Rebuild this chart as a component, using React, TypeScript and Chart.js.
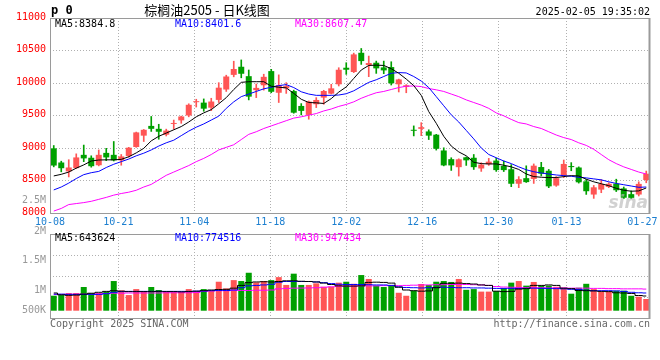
import React, { useEffect, useRef } from 'react';
import { Chart, registerables } from 'chart.js';

Chart.register(...registerables);

// ---------- data ----------
const dates = [
  '10-08', '10-09', '10-10', '10-11', '10-14', '10-15', '10-16', '10-17', '10-18', '10-21',
  '10-22', '10-23', '10-24', '10-25', '10-28', '10-29', '10-30', '10-31', '11-01', '11-04',
  '11-05', '11-06', '11-07', '11-08', '11-11', '11-12', '11-13', '11-14', '11-15', '11-18',
  '11-19', '11-20', '11-21', '11-22', '11-25', '11-26', '11-27', '11-28', '11-29', '12-02',
  '12-03', '12-04', '12-05', '12-06', '12-09', '12-10', '12-11', '12-12', '12-13', '12-16',
  '12-17', '12-18', '12-19', '12-20', '12-23', '12-24', '12-25', '12-26', '12-27', '12-30',
  '12-31', '01-02', '01-03', '01-06', '01-07', '01-08', '01-09', '01-10', '01-13', '01-14',
  '01-15', '01-16', '01-17', '01-20', '01-21', '01-22', '01-23', '01-24', '01-27', '02-05',
];

const opens = [
  8995, 8777, 8640, 8690, 8895, 8850, 8735, 8925, 8895, 8810,
  8875, 9015, 9190, 9340, 9295, 9205, 9370, 9425, 9500, 9705,
  9698, 9620, 9740, 9900, 10125, 10250, 10105, 9890, 9965, 10183,
  9850, 9918, 9876, 9647, 9509, 9673, 9775, 9836, 9980, 10235,
  10169, 10465, 10276, 10312, 10240, 10245, 9980, 9940, 9280, 9295,
  9255, 9205, 8962, 8828, 8705, 8857, 8850, 8685, 8750, 8807,
  8724, 8673, 8450, 8536, 8524, 8707, 8650, 8422, 8575, 8722,
  8700, 8487, 8284, 8360, 8402, 8452, 8378, 8290, 8284, 8508,
];
const highs = [
  9038, 8797, 8820, 8910, 9045, 8880, 8970, 8995, 9100, 8900,
  9010, 9245, 9285, 9485, 9365, 9290, 9430, 9490, 9680, 9750,
  9755, 9765, 10005, 10120, 10335, 10355, 10200, 9985, 10135, 10210,
  10125, 10005, 9890, 9683, 9724, 9775, 9888, 9980, 10235, 10312,
  10460, 10531, 10414, 10337, 10337, 10327, 10060, 9975, 9340, 9390,
  9280, 9210, 9003, 8850, 8834, 8862, 8900, 8773, 8840, 8845,
  8800, 8745, 8560, 8726, 8755, 8780, 8670, 8560, 8815, 8775,
  8710, 8515, 8424, 8515, 8465, 8520, 8400, 8340, 8480, 8645,
];
const lows = [
  8710, 8633, 8555, 8685, 8790, 8705, 8725, 8805, 8800, 8735,
  8860, 9010, 9100, 9255, 9135, 9185, 9290, 9380, 9480, 9630,
  9565, 9575, 9700, 9870, 10095, 10080, 9740, 9775, 9890, 9850,
  9700, 9840, 9535, 9509, 9443, 9622, 9673, 9830, 9954, 10133,
  10160, 10286, 10097, 10148, 10143, 9969, 9862, 9850, 9186, 9190,
  9130, 8968, 8725, 8655, 8568, 8732, 8670, 8640, 8732, 8640,
  8638, 8405, 8390, 8470, 8455, 8570, 8390, 8410, 8545, 8650,
  8460, 8286, 8225, 8312, 8390, 8330, 8220, 8220, 8262, 8465,
];
const closes = [
  8730, 8689, 8700, 8855, 8840, 8720, 8895, 8855, 8810, 8870,
  9005, 9240, 9280, 9295, 9250, 9268, 9385, 9485, 9665, 9720,
  9605, 9715, 9928, 10100, 10215, 10142, 9790, 9925, 10095, 9865,
  9968, 9952, 9543, 9571, 9714, 9739, 9877, 9918, 10204, 10204,
  10440, 10337, 10307, 10225, 10194, 9995, 10055, 9965, 9265, 9320,
  9190, 8988, 8732, 8732, 8826, 8810, 8705, 8745, 8790, 8660,
  8660, 8450, 8520, 8475, 8728, 8605, 8410, 8536, 8755, 8706,
  8472, 8335, 8395, 8447, 8450, 8350, 8235, 8233, 8448, 8605,
];

const ma5 = [
  8570, 8595, 8630, 8690, 8740, 8800, 8815, 8818, 8818, 8825,
  8865, 8925, 8995, 9110, 9180, 9230, 9280, 9330, 9400, 9480,
  9540, 9590, 9680, 9775, 9900, 10010, 10020, 10020, 10020, 9950,
  9935, 9925, 9840, 9750, 9700, 9695, 9685, 9760, 9860, 9940,
  10070, 10200, 10270, 10275, 10270, 10220, 10150, 10060, 9960, 9810,
  9560, 9380, 9180, 9030, 8940, 8880, 8780, 8760, 8755, 8755,
  8735, 8710, 8670, 8600, 8560, 8550, 8545, 8545, 8560, 8575,
  8570, 8520, 8480, 8450, 8420, 8380, 8350, 8335, 8340, 8385,
];
const ma10 = [
  8355, 8400, 8460, 8530, 8590, 8620, 8640, 8700, 8750, 8790,
  8830, 8880, 8920, 8970, 9030, 9080, 9120, 9190, 9260, 9320,
  9370, 9430, 9490, 9610, 9710, 9790, 9830, 9870, 9910, 9935,
  9960, 9975, 9930, 9865, 9830, 9810, 9810, 9810, 9815, 9835,
  9880, 9945, 10010, 10050, 10100, 10150, 10160, 10155, 10100, 10030,
  9930, 9790, 9650, 9510, 9400, 9270, 9140, 9000, 8900, 8850,
  8800, 8760, 8710, 8665, 8635, 8615, 8600, 8585, 8575, 8565,
  8550, 8540, 8525, 8510, 8480, 8455, 8435, 8415, 8395, 8400,
];
const ma30 = [
  8030, 8070, 8130, 8145, 8160, 8180, 8210, 8240, 8275, 8300,
  8320, 8350, 8400, 8440, 8510, 8580, 8630, 8680, 8730, 8790,
  8840, 8900, 8970, 9010, 9050, 9130, 9210, 9250, 9300, 9340,
  9380, 9420, 9460, 9480, 9505, 9530, 9570, 9600, 9640, 9670,
  9710, 9765, 9810, 9850, 9870, 9900, 9930, 9950, 9955, 9945,
  9915, 9895, 9870, 9830, 9790, 9740, 9700, 9660, 9610, 9540,
  9495, 9440, 9390, 9370, 9330, 9300, 9250, 9200, 9160, 9130,
  9080, 9040, 8980, 8900, 8820, 8760, 8710, 8670, 8630, 8600,
];

// volume in millions of lots
const volumes = [
  0.652, 0.68, 0.768, 0.768, 1.03, 0.77, 0.77, 0.83, 1.29, 0.88,
  0.68, 0.94, 0.83, 1.03, 0.9, 0.81, 0.81, 0.81, 0.94, 0.855,
  0.94, 0.88, 1.26, 0.97, 1.33, 1.29, 1.65, 1.23, 1.29, 1.33,
  1.46, 1.12, 1.61, 1.12, 1.12, 1.19, 1.04, 1.04, 1.22, 1.26,
  1.17, 1.55, 1.38, 1.09, 1.03, 1.12, 0.78, 0.65, 0.87, 1.16,
  1.12, 1.26, 1.29, 1.25, 1.38, 0.91, 0.94, 0.83, 0.83, 0.855,
  0.985, 1.22, 1.29, 1.09, 1.25, 1.09, 1.09, 1.04, 1.0, 0.74,
  1.0, 1.17, 0.94, 0.83, 0.83, 0.87, 0.87, 0.65, 0.61, 0.51,
];
const volMa5 = [
  0.77, 0.69, 0.67, 0.68, 0.72, 0.76, 0.80, 0.84, 0.87, 0.85,
  0.83, 0.83, 0.83, 0.83, 0.84, 0.83, 0.83, 0.82, 0.83, 0.85,
  0.87, 0.90, 0.92, 0.93, 0.98, 1.10, 1.22, 1.25, 1.26, 1.25,
  1.27, 1.30, 1.30, 1.28, 1.27, 1.25, 1.20, 1.14, 1.08, 1.07,
  1.07, 1.08, 1.23, 1.24, 1.23, 1.20, 1.02, 0.90, 0.87, 0.85,
  0.86, 1.00, 1.19, 1.19, 1.20, 1.18, 1.16, 1.12, 1.10, 0.85,
  0.83, 0.84, 0.94, 0.96, 1.10, 1.10, 1.12, 1.10, 0.98, 0.96,
  0.88, 0.87, 0.86, 0.84, 0.83, 0.78, 0.77, 0.75, 0.66, 0.64,
];
const volMa10 = [
  0.72, 0.72, 0.71, 0.71, 0.71, 0.71, 0.71, 0.74, 0.80, 0.83,
  0.84, 0.84, 0.84, 0.84, 0.84, 0.84, 0.84, 0.84, 0.84, 0.85,
  0.855, 0.87, 0.88, 0.88, 0.90, 1.00, 1.08, 1.10, 1.12, 1.15,
  1.24, 1.27, 1.27, 1.27, 1.27, 1.25, 1.22, 1.18, 1.15, 1.14,
  1.14, 1.14, 1.13, 1.12, 1.12, 1.10, 1.04, 1.01, 1.00, 0.99,
  1.00, 1.01, 1.02, 1.01, 1.00, 1.00, 0.99, 0.99, 0.98, 0.97,
  0.97, 0.97, 0.97, 0.97, 0.98, 0.97, 0.97, 0.96, 0.95, 0.93,
  0.92, 0.89, 0.87, 0.87, 0.87, 0.86, 0.84, 0.80, 0.78, 0.77,
];
const volMa30 = [
  0.71, 0.71, 0.72, 0.72, 0.72, 0.72, 0.73, 0.75, 0.76, 0.76,
  0.77, 0.77, 0.77, 0.77, 0.77, 0.78, 0.78, 0.78, 0.78, 0.79,
  0.84, 0.86, 0.87, 0.87, 0.88, 0.88, 0.88, 0.89, 0.89, 0.90,
  0.95, 0.97, 0.98, 0.985, 0.99, 1.00, 1.02, 1.04, 1.06, 1.07,
  1.07, 1.08, 1.08, 1.08, 1.09, 1.09, 1.09, 1.10, 1.11, 1.12,
  1.12, 1.13, 1.13, 1.14, 1.14, 1.14, 1.13, 1.12, 1.10, 1.05,
  1.03, 1.02, 1.01, 1.00, 1.00, 1.00, 0.99, 0.99, 0.99, 0.98,
  0.98, 0.98, 0.97, 0.97, 0.96, 0.96, 0.95, 0.95, 0.95, 0.94,
];

const axisDates = ['10-08', '10-21', '11-04', '11-18', '12-02', '12-16', '12-30', '01-13', '01-27'];
const priceMin = 8000;
const priceMax = 11000;
const priceStep = 500;
const volumeAxisLabels = ['2M', '1.5M', '1M', '500K'];
const priceLegend = ['MA5:8384.8', 'MA10:8401.6', 'MA30:8607.47'];
const volumeLegend = ['MA5:643624', 'MA10:774516', 'MA30:947434'];
const extraPriceLabel = '2.5M';
const titleText = '棕榈油2505 - 日K线图';
const codeText = 'p 0';
const stampText = '2025-02-05 19:35:02';
const copyrightText = 'Copyright 2025 SINA.COM';
const urlText = 'http://finance.sina.com.cn';
const watermarkText = 'sina';

// ---------- style ----------
const RED = '#ff5555';
const GREEN = '#00a000';
const MA_COLORS = ['#000000', '#0000ff', '#ff00ff'];
const GRID = '#b0b0b0';
const FRAME = '#9a9a9a';
const MONO = '"DejaVu Sans Mono", "Liberation Mono", monospace';
const SLOTS = dates.length;
const GRID_STRETCH = SLOTS / (SLOTS - 1); // sina spaces its date grid on n-1 intervals
const gridPositions = axisDates.map((d) => dates.indexOf(d) * GRID_STRETCH);
const VOL_MIN = -0.317;
const VOL_MAX = 3.335;

const candleColors = closes.map((c, i) => (c >= opens[i] ? RED : GREEN));
const xAt = (i: number) => i + 0.5;

function xScale(showLabels: boolean, height: number) {
  return {
    type: 'linear',
    min: 0,
    max: SLOTS,
    offset: false,
    bounds: 'data',
    afterBuildTicks: (s: any) => {
      s.ticks = gridPositions.map((v) => ({ value: v }));
    },
    afterFit: (s: any) => {
      s.height = height;
      s.paddingLeft = 0;
      s.paddingRight = 0;
    },
    ticks: {
      display: showLabels,
      autoSkip: false,
      maxRotation: 0,
      minRotation: 0,
      padding: 3,
      color: '#1c7fd0',
      font: { family: MONO, size: 10 },
      callback: (_v: any, idx: number) => axisDates[idx],
    },
    grid: {
      offset: false,
      drawTicks: false,
      tickLength: 0,
      color: (ctx: any) => (ctx.index === axisDates.length - 1 ? 'rgba(0,0,0,0)' : GRID),
    },
    border: { display: false, dash: [1, 2] },
  };
}

function lineSet(values: number[], color: string, yAxisID: string, stepped: any = false) {
  return {
    type: 'line',
    data: values.map((v, i) => ({ x: xAt(i), y: v })),
    borderColor: color,
    borderWidth: 1,
    pointRadius: 0,
    fill: false,
    tension: 0,
    stepped,
    yAxisID,
    order: 0,
  };
}

const framePlugin = {
  id: 'frame',
  afterDraw(chart: any) {
    const { ctx, chartArea: a } = chart;
    ctx.save();
    ctx.strokeStyle = FRAME;
    ctx.lineWidth = 1;
    ctx.strokeRect(a.left + 0.5, a.top + 0.5, a.right - a.left - 1, a.bottom - a.top);
    ctx.beginPath();
    ctx.moveTo(a.right - 0.5, a.top);
    ctx.lineTo(a.right - 0.5, a.bottom + 1);
    ctx.lineWidth = 2;
    ctx.stroke();
    ctx.restore();
  },
};

const priceTextPlugin = {
  id: 'priceText',
  afterDraw(chart: any) {
    const { ctx, chartArea: a } = chart;
    ctx.save();
    ctx.textBaseline = 'middle';
    ctx.fillStyle = '#000';
    ctx.textAlign = 'left';
    ctx.font = `bold 12px ${MONO}`;
    ctx.fillText(codeText, a.left + 1, 11);
    ctx.textAlign = 'center';
    ctx.font = '13px "Noto Sans CJK SC", sans-serif';
    ctx.fillText(titleText, 207, 10);
    ctx.textAlign = 'right';
    ctx.font = `10px ${MONO}`;
    ctx.fillText(stampText, a.right, 12);
    ctx.textAlign = 'left';
    priceLegend.forEach((t, k) => {
      ctx.fillStyle = MA_COLORS[k];
      ctx.fillText(t, a.left + 5 + k * 120, a.top + 6.5);
    });
    ctx.textAlign = 'right';
    ctx.fillStyle = '#999';
    ctx.fillText(extraPriceLabel, a.left - 4, a.bottom - 12.5);
    ctx.font = 'italic bold 17px "DejaVu Sans", sans-serif';
    ctx.fillStyle = 'rgba(185,185,185,0.65)';
    ctx.fillText(watermarkText, a.right - 2, a.bottom - 9);
    ctx.restore();
  },
};

const volumeTextPlugin = {
  id: 'volumeText',
  afterDraw(chart: any) {
    const { ctx, chartArea: a } = chart;
    ctx.save();
    ctx.textBaseline = 'middle';
    ctx.font = `10px ${MONO}`;
    ctx.textAlign = 'left';
    volumeLegend.forEach((t, k) => {
      ctx.fillStyle = MA_COLORS[k];
      ctx.fillText(t, a.left + 5 + k * 120, a.top + 4.5);
    });
    ctx.textAlign = 'right';
    ctx.fillStyle = '#999';
    const offs = [-3, 26.7, 56.7, 76.7];
    volumeAxisLabels.forEach((t, k) => ctx.fillText(t, a.left - 4, a.top + offs[k]));
    ctx.fillStyle = '#666';
    ctx.textAlign = 'left';
    ctx.fillText(copyrightText, a.left, a.bottom + 6);
    ctx.textAlign = 'right';
    ctx.fillText(urlText, a.right, a.bottom + 6);
    ctx.restore();
  },
};

function priceConfig(): any {
  return {
    type: 'bar',
    data: {
      datasets: [
        lineSet(ma5, MA_COLORS[0], 'y'),
        lineSet(ma10, MA_COLORS[1], 'y'),
        lineSet(ma30, MA_COLORS[2], 'y'),
        {
          type: 'bar',
          data: opens.map((o, i) => ({ x: xAt(i), y: [o, closes[i]] })),
          backgroundColor: candleColors,
          borderWidth: 0,
          grouped: false,
          categoryPercentage: 1,
          barPercentage: 0.8,
          minBarLength: 1,
          order: 1,
        },
        {
          type: 'bar',
          data: lows.map((l, i) => ({ x: xAt(i), y: [l, highs[i]] })),
          backgroundColor: candleColors,
          borderWidth: 0,
          grouped: false,
          barThickness: 1,
          order: 2,
        },
      ],
    },
    options: {
      responsive: false,
      animation: false,
      devicePixelRatio: 1,
      events: [],
      layout: { padding: { left: 0, right: 10, top: 18, bottom: 0 } },
      plugins: { legend: { display: false }, tooltip: { enabled: false } },
      scales: {
        x: xScale(true, 17),
        y: {
          type: 'linear',
          min: priceMin,
          max: priceMax,
          beginAtZero: false,
          afterFit: (s: any) => {
            s.width = 50;
            s.paddingTop = 0;
            s.paddingBottom = 0;
          },
          ticks: {
            stepSize: priceStep,
            color: '#ff0000',
            padding: 4,
            labelOffset: -1,
            font: { family: MONO, size: 10 },
            callback: (v: any) => String(v),
          },
          grid: { drawTicks: false, tickLength: 0, color: GRID },
          border: { display: false, dash: [1, 2] },
        },
      },
    },
    plugins: [framePlugin, priceTextPlugin],
  };
}

function volumeConfig(): any {
  return {
    type: 'bar',
    data: {
      datasets: [
        lineSet(volMa5, MA_COLORS[0], 'y', 'middle'),
        lineSet(volMa10, MA_COLORS[1], 'y', 'middle'),
        lineSet(volMa30, MA_COLORS[2], 'y', 'middle'),
        {
          type: 'bar',
          data: volumes.map((v, i) => ({ x: xAt(i), y: v })),
          backgroundColor: candleColors,
          borderWidth: 0,
          grouped: false,
          categoryPercentage: 1,
          barPercentage: 0.8,
          yAxisID: 'y',
          order: 1,
        },
      ],
    },
    options: {
      responsive: false,
      animation: false,
      devicePixelRatio: 1,
      events: [],
      layout: { padding: { left: 0, right: 10, top: 8, bottom: 42 } },
      plugins: { legend: { display: false }, tooltip: { enabled: false } },
      scales: {
        x: xScale(false, 0),
        y: { type: 'linear', min: VOL_MIN, max: VOL_MAX, display: false },
        y2: {
          type: 'linear',
          position: 'left',
          min: 0,
          max: 4,
          afterFit: (s: any) => {
            s.width = 50;
            s.paddingTop = 0;
            s.paddingBottom = 0;
          },
          ticks: { stepSize: 1, display: false },
          grid: { drawTicks: false, tickLength: 0, color: GRID },
          border: { display: false, dash: [1, 2] },
        },
      },
    },
    plugins: [framePlugin, volumeTextPlugin],
  };
}

export default function App() {
  const priceRef = useRef<HTMLCanvasElement>(null);
  const volRef = useRef<HTMLCanvasElement>(null);

  useEffect(() => {
    const c1 = new Chart(priceRef.current as HTMLCanvasElement, priceConfig());
    const c2 = new Chart(volRef.current as HTMLCanvasElement, volumeConfig());
    return () => {
      c1.destroy();
      c2.destroy();
    };
  }, []);

  return (
    <div style={{ position: 'absolute', left: 0, top: 0, width: 660, height: 360, background: '#fff' }}>
      <canvas ref={priceRef} width={660} height={230} style={{ position: 'absolute', left: 0, top: 0 }} />
      <canvas ref={volRef} width={660} height={134} style={{ position: 'absolute', left: 0, top: 226 }} />
    </div>
  );
}
